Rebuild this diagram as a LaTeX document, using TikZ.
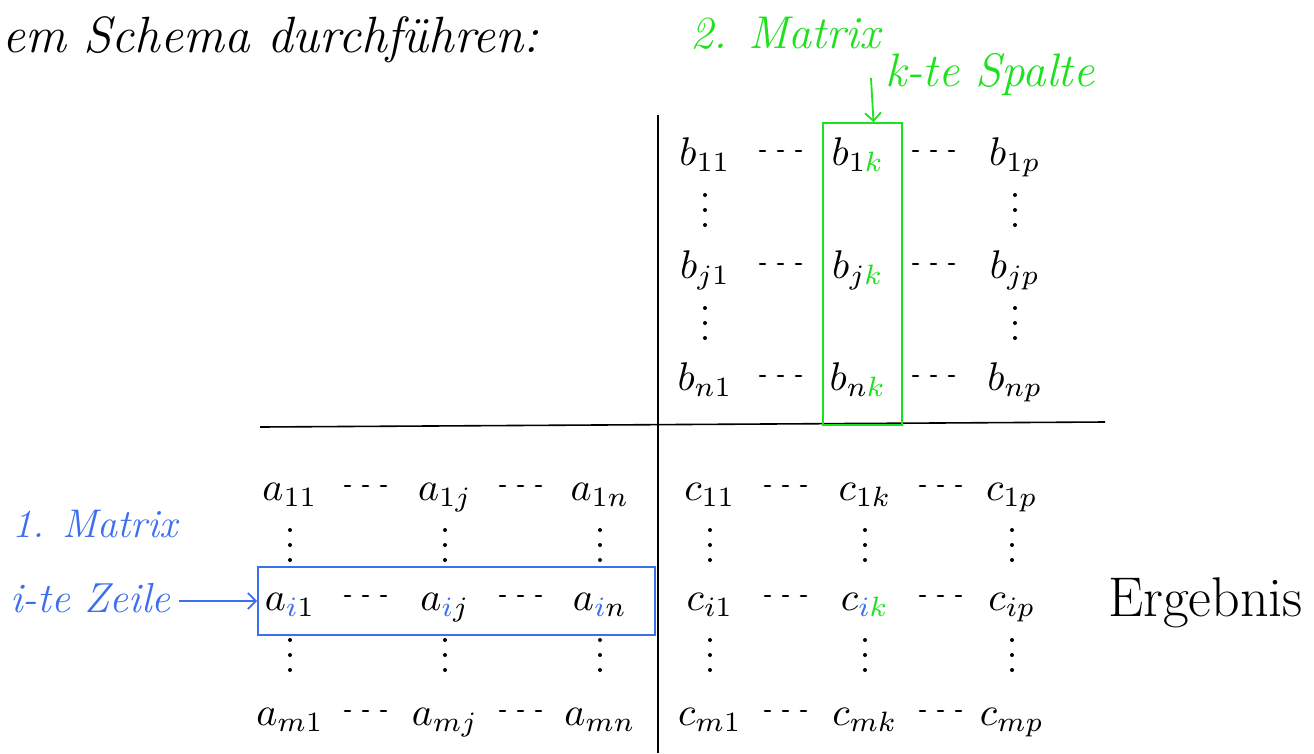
\documentclass[tikz,border=0pt]{standalone}
\usetikzlibrary{arrows.meta}
\definecolor{kgreen}{RGB}{30,225,30}
\definecolor{iblue}{RGB}{60,110,240}
\newcommand{\kk}{{\color{kgreen}k}}
\newcommand{\ii}{{\color{iblue}i}}
\begin{document}
\begin{tikzpicture}[x=1pt,y=-1pt,
  entry/.style={inner sep=0pt, anchor=base, scale=4, transform shape},
  hdash/.style={line width=2.6pt, line cap=round, dash pattern=on 5pt off 13pt, shorten <=55pt, shorten >=50pt},
  vdot/.style={line width=4pt, line cap=round, dash pattern=on 0pt off 15pt, shorten <=30pt, shorten >=45pt},
  lbl/.style={inner sep=0pt, anchor=base west},
  axis/.style={line width=1.6pt},
  selbox/.style={draw, line width=1.8pt, inner sep=0pt}]
\useasboundingbox (0,0) rectangle (1314,753);

% top text
\node[lbl, font=\fontsize{51}{56}\selectfont\itshape] (title) at (2,52) {em Schema durchführen:};
\node[lbl, font=\fontsize{46}{52}\selectfont\itshape, text=kgreen] (m2) at (690,48) {2. Matrix};
\node[lbl, font=\fontsize{47}{52}\selectfont\itshape, text=kgreen] (kspalte) at (885,86) {k-te Spalte};
\node[lbl, font=\fontsize{40}{46}\selectfont\itshape, text=iblue] (m1) at (12,537) {1. Matrix};
\node[lbl, font=\fontsize{42}{48}\selectfont\itshape, text=iblue] (izeile) at (10,612) {i-te Zeile};
\node[lbl, font=\fontsize{56}{62}\selectfont] (erg) at (1108,616) {Ergebnis};

% axes
\coordinate (vtop) at (658,115);
\coordinate (vbot) at (658,753);
\coordinate (hl) at (260,427);
\coordinate (hr) at (1105,422);
\draw[axis] (vtop) -- (vbot);
\draw[axis] (hl) -- (hr);

% B matrix
\node[entry] (b11) at (705,165) {$b_{11}$};
\node[entry] (b1k) at (858,165) {$b_{1\kk}$};
\node[entry] (b1p) at (1015,165) {$b_{1p}$};
\node[entry] (bj1) at (705,278) {$b_{j1}$};
\node[entry] (bjk) at (858,278) {$b_{j\kk}$};
\node[entry] (bjp) at (1015,278) {$b_{jp}$};
\node[entry] (bn1) at (705,390) {$b_{n1}$};
\node[entry] (bnk) at (858,390) {$b_{n\kk}$};
\node[entry] (bnp) at (1015,390) {$b_{np}$};

% A matrix
\node[entry] (a11) at (290,500) {$a_{11}$};
\node[entry] (a1j) at (445,500) {$a_{1j}$};
\node[entry] (a1n) at (600,500) {$a_{1n}$};
\node[entry] (ai1) at (290,610) {$a_{\ii1}$};
\node[entry] (aij) at (445,610) {$a_{\ii j}$};
\node[entry] (ain) at (600,610) {$a_{\ii n}$};
\node[entry] (am1) at (290,725) {$a_{m1}$};
\node[entry] (amj) at (445,725) {$a_{mj}$};
\node[entry] (amn) at (600,725) {$a_{mn}$};

% C matrix
\node[entry] (c11) at (710,500) {$c_{11}$};
\node[entry] (c1k) at (865,500) {$c_{1k}$};
\node[entry] (c1p) at (1012,500) {$c_{1p}$};
\node[entry] (ci1) at (710,610) {$c_{i1}$};
\node[entry] (cik) at (865,610) {$c_{\ii\kk}$};
\node[entry] (cip) at (1012,610) {$c_{ip}$};
\node[entry] (cm1) at (710,725) {$c_{m1}$};
\node[entry] (cmk) at (865,725) {$c_{mk}$};
\node[entry] (cmp) at (1012,725) {$c_{mp}$};

% horizontal dashes
\foreach \a/\b in {b11/b1k,b1k/b1p,bj1/bjk,bjk/bjp,bn1/bnk,bnk/bnp,
                   a11/a1j,a1j/a1n,ai1/aij,aij/ain,am1/amj,amj/amn,
                   c11/c1k,c1k/c1p,ci1/cik,cik/cip,cm1/cmk,cmk/cmp}
  \draw[hdash] ([yshift=14pt]\a.base) -- ([yshift=14pt]\b.base);

% vertical dots
\foreach \a/\b in {b11/bj1,bj1/bn1,b1p/bjp,bjp/bnp,
                   a11/ai1,ai1/am1,a1j/aij,aij/amj,a1n/ain,ain/amn,
                   c11/ci1,ci1/cm1,c1k/cik,cik/cmk,c1p/cip,cip/cmp}
  \draw[vdot] (\a.base) -- (\b.base);

% highlight boxes
\node[selbox, draw=kgreen, minimum width=79pt, minimum height=302pt] (gbox) at (862.5,274) {};
\node[selbox, draw=iblue, minimum width=397pt, minimum height=68pt] (bbox) at (456.5,601) {};

% arrows
\coordinate (garr) at (871,78);
\draw[kgreen, line width=1.8pt, -{Straight Barb[length=8pt,width=16pt]}] (garr) -- ([xshift=11pt]gbox.north);
\draw[iblue, line width=1.8pt, -{Straight Barb[length=8pt,width=16pt]}] ([xshift=8pt,yshift=11pt]izeile.base east) -- (bbox.west);
\end{tikzpicture}
\end{document}
